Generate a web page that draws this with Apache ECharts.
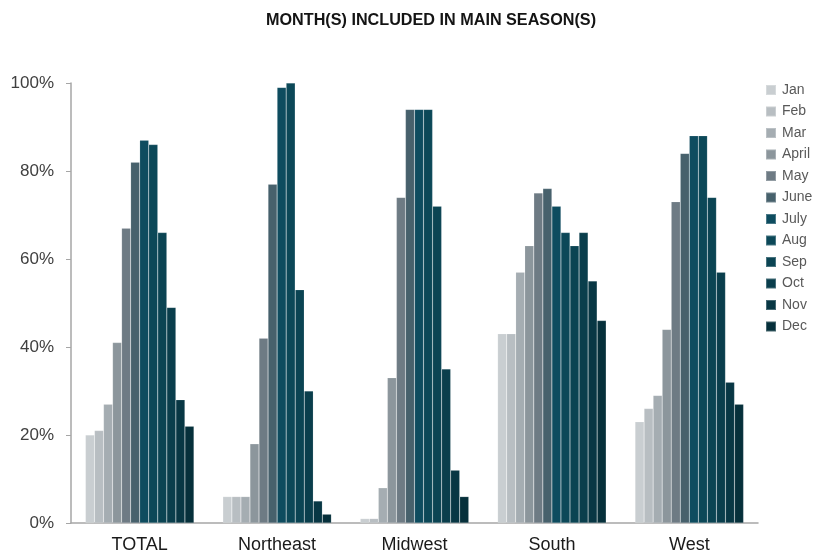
<!DOCTYPE html>
<html>
<head>
<meta charset="utf-8">
<script src="https://cdn.jsdelivr.net/npm/echarts@6/dist/echarts.min.js"></script>
<style>
  html, body { margin: 0; padding: 0; background: #ffffff; }
  #chart { width: 813px; height: 554px; }
</style>
</head>
<body>
<div id="chart"></div>
<script>
// Regions along the category axis
const regions = ['TOTAL', 'Northeast', 'Midwest', 'South', 'West'];

// Months shown in the legend, one series each
const months = ['Jan', 'Feb', 'Mar', 'April', 'May', 'June', 'July', 'Aug', 'Sep', 'Oct', 'Nov', 'Dec'];

// Share (%) of respondents including each month in their main season, per region
const janValues   = [20, 6, 1, 43, 23];
const febValues   = [21, 6, 1, 43, 26];
const marValues   = [27, 6, 8, 57, 29];
const aprilValues = [41, 18, 33, 63, 44];
const mayValues   = [67, 42, 74, 75, 73];
const juneValues  = [82, 77, 94, 76, 84];
const julyValues  = [87, 99, 94, 72, 88];
const augValues   = [86, 100, 94, 66, 88];
const sepValues   = [66, 53, 72, 63, 74];
const octValues   = [49, 30, 35, 66, 57];
const novValues   = [28, 5, 12, 55, 32];
const decValues   = [22, 2, 6, 46, 27];

const monthValues = [janValues, febValues, marValues, aprilValues, mayValues, juneValues,
                     julyValues, augValues, sepValues, octValues, novValues, decValues];

// Value axis ticks
const yTicks = [0, 20, 40, 60, 80, 100];

// Grey-to-teal ramp, one shade per month
const monthColors = ['#c9ced1', '#b8bec2', '#a5adb2', '#8c969c', '#6e7b84', '#47616c',
                     '#0e4c5f', '#0c4858', '#0b4453', '#0a3e4c', '#083744', '#06303b'];

const chart = echarts.init(document.getElementById('chart'), null, { renderer: 'canvas' });

const series = months.map((m, i) => ({
  name: m,
  type: 'bar',
  data: monthValues[i],
  barGap: '0%',
  barCategoryGap: '21%',
  itemStyle: {
    color: monthColors[i],
    borderColor: 'rgba(255,255,255,0.25)',
    borderWidth: 0.5
  },
  emphasis: { disabled: true }
}));

chart.setOption({
  animation: false,
  backgroundColor: '#ffffff',
  title: {
    text: 'MONTH(S) INCLUDED IN MAIN SEASON(S)',
    left: 426,
    textAlign: 'center',
    top: 8,
    textStyle: {
      fontFamily: 'Liberation Sans, Arial, sans-serif',
      fontSize: 16.2,
      fontWeight: 'bold',
      color: '#141414'
    }
  },
  legend: {
    orient: 'vertical',
    left: 765,
    top: 83,
    padding: 0,
    itemWidth: 10,
    itemHeight: 10,
    itemGap: 7.5,
    icon: 'rect',
    data: months,
    selectedMode: false,
    textStyle: {
      fontFamily: 'Liberation Sans, Arial, sans-serif',
      fontSize: 14,
      color: '#595959',
      padding: [0, 0, 0, 1]
    }
  },
  grid: {
    left: 71,
    right: 55,
    top: 83,
    bottom: 31,
    containLabel: false
  },
  xAxis: {
    type: 'category',
    data: regions,
    axisLine: { show: true, lineStyle: { color: '#a6a6a6', width: 1.5 } },
    axisTick: { show: false },
    axisLabel: {
      fontFamily: 'Liberation Sans, Arial, sans-serif',
      fontSize: 18,
      color: '#1a1a1a',
      margin: 13
    }
  },
  yAxis: {
    type: 'value',
    min: yTicks[0],
    max: yTicks[yTicks.length - 1],
    interval: yTicks[1] - yTicks[0],
    axisLine: { show: true, lineStyle: { color: '#a6a6a6', width: 1.5 } },
    axisTick: { show: true, length: 5, lineStyle: { color: '#a6a6a6', width: 1 } },
    splitLine: { show: false },
    axisLabel: {
      formatter: '{value}%',
      fontFamily: 'Liberation Sans, Arial, sans-serif',
      fontSize: 17,
      color: '#404040',
      margin: 17
    }
  },
  series: series
});
</script>
</body>
</html>
